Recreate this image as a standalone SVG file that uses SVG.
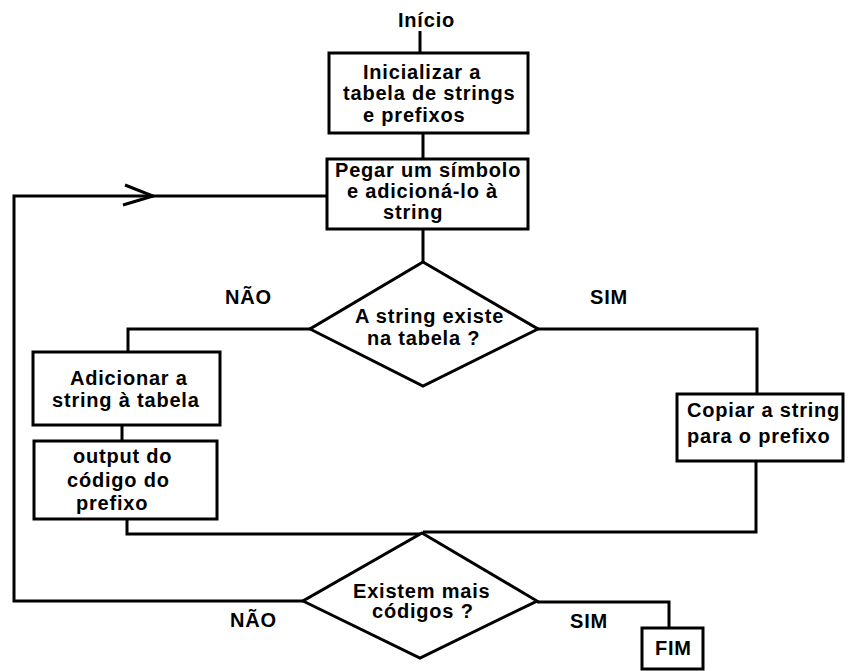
<svg xmlns="http://www.w3.org/2000/svg" width="848" height="671" viewBox="0 0 848 671">
<style>
  .shape { fill: #ffffff; stroke: #000000; stroke-width: 3; }
  .conn { fill: none; stroke: #000000; stroke-width: 3; stroke-linejoin: miter; }
  text { font-family: "Liberation Sans", Arial, sans-serif; font-weight: bold; font-size: 20px; letter-spacing: 0.8px; fill: #000000; }
</style>
<rect width="848" height="671" fill="#ffffff"/>
<g id="connectors">
  <path class="conn" d="M420 31 V53"/>
  <path class="conn" d="M423 133 V159"/>
  <path class="conn" d="M423 229 V262"/>
  <path class="conn" d="M310 329 H128 V352"/>
  <path class="conn" d="M122 425 V441"/>
  <path class="conn" d="M127 519 V534 H423"/>
  <path class="conn" d="M538 329 H757 V394"/>
  <path class="conn" d="M756 461 V532 H423"/>
  <path class="conn" d="M303 601 H14 V196 H327"/>
  <path class="conn" d="M125 185 L153 196 L123 205" stroke-width="4"/>
  <path class="conn" d="M537 602 H669 V628"/>
</g>
<g id="inicio">
  <text x="398" y="27">Início</text>
</g>
<g id="inicializar">
  <rect class="shape" x="329" y="53" width="199" height="80"/>
  <text x="363" y="79">Inicializar a</text>
  <text x="343" y="100">tabela de strings</text>
  <text x="363" y="122">e prefixos</text>
</g>
<g id="pegar">
  <rect class="shape" x="327" y="159" width="201" height="70"/>
  <text x="335" y="177">Pegar um símbolo</text>
  <text x="347" y="198">e adicioná-lo à</text>
  <text x="383" y="219">string</text>
</g>
<g id="existe">
  <polygon class="shape" points="423,262 538,329 423,386 310,329"/>
  <text x="355" y="323">A string existe</text>
  <text x="367" y="345">na tabela ?</text>
</g>
<g id="adicionar">
  <rect class="shape" x="33" y="352" width="187" height="73"/>
  <text x="70" y="385">Adicionar a</text>
  <text x="52" y="407">string à tabela</text>
</g>
<g id="output">
  <rect class="shape" x="34" y="441" width="183" height="78"/>
  <text x="73" y="463">output do</text>
  <text x="67" y="487">código do</text>
  <text x="76" y="510">prefixo</text>
</g>
<g id="copiar">
  <rect class="shape" x="677" y="394" width="166" height="67"/>
  <text x="687" y="417">Copiar a string</text>
  <text x="687" y="443">para o prefixo</text>
</g>
<g id="mais">
  <polygon class="shape" points="422,533 537,601 420,658 303,601"/>
  <text x="353" y="598">Existem mais</text>
  <text x="372" y="618">códigos ?</text>
</g>
<g id="fim">
  <rect class="shape" x="642" y="628" width="61" height="41"/>
  <text x="655" y="655">FIM</text>
</g>
<g id="labels">
  <text x="225" y="304">NÃO</text>
  <text x="590" y="304">SIM</text>
  <text x="230" y="627">NÃO</text>
  <text x="570" y="628">SIM</text>
</g>
</svg>
